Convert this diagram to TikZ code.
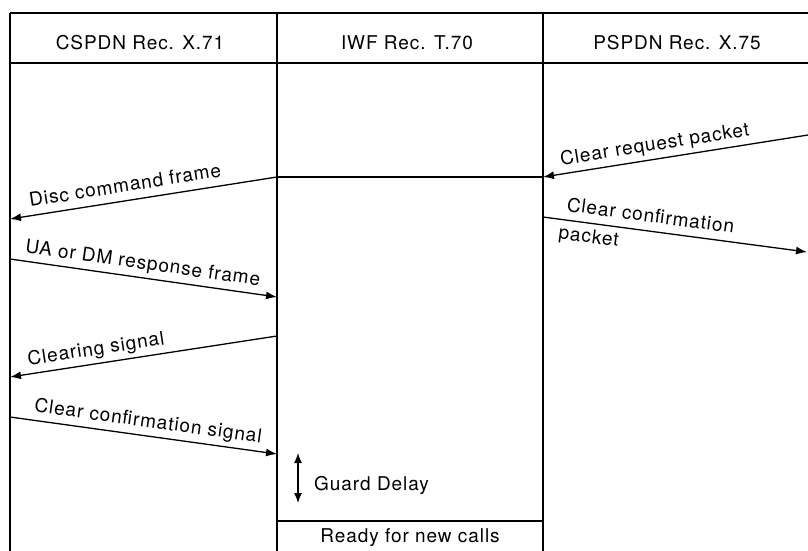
\documentclass[tikz,border=0pt]{standalone}
\usepackage{fontspec}
\setmainfont{TeX Gyre Heros}[LetterSpace=5]
\usetikzlibrary{arrows.meta}
\begin{document}
\begin{tikzpicture}[x=1pt,y=-1pt,
  every node/.style={font=\fontsize{19}{22}\selectfont, inner sep=0pt},
  frame/.style={line width=1.8pt},
  life/.style={line width=2pt},
  msgr/.style={line width=1.3pt, -{Latex[length=11pt,width=8pt]}},
  msgl/.style={line width=1.3pt, {Latex[length=11pt,width=8pt]}-},
  lbl/.style={sloped, above=4pt, text depth=4pt},
  lbln/.style={sloped, above=8pt},
  lblb/.style={sloped, below=5pt},
  head/.style={anchor=base}]
\useasboundingbox (0,0) rectangle (808,551);
% lifelines and header
\coordinate (Ltop) at (10,13);   \coordinate (Lbot) at (10,551);
\coordinate (Mtop) at (277,13);  \coordinate (Mbot) at (277,551);
\coordinate (Rtop) at (543,13);  \coordinate (Rbot) at (543,551);
\coordinate (Etop) at (808,13);
\coordinate (Hl) at (10,63);     \coordinate (Hr) at (808,63);
\draw[frame] (Ltop) -- (Etop);
\draw[frame] (Hl) -- (Hr);
\draw[life] (Ltop) -- (Lbot);
\draw[life] (Mtop) -- (Mbot);
\draw[life] (Rtop) -- (Rbot);
\node[head] (h1) at (140,49) {CSPDN Rec. X.71};
\node[head] (h2) at (407,49) {IWF Rec. T.70};
\node[head] (h3) at (677,49) {PSPDN Rec. X.75};
% messages
\coordinate (crpR) at (808,135); \coordinate (crpL) at (543,177);
\draw[msgl] (crpL) -- (crpR) node[lbl,pos=0.43] (t1) {Clear request packet};
\coordinate (hzL) at (277,177);
\draw[line width=1.3pt] (hzL) -- (crpL);
\coordinate (dcL) at (10,219);
\draw[msgl] (dcL) -- (hzL) node[lbln,pos=0.44] (t2) {Disc command frame};
\coordinate (ccpL) at (543,217); \coordinate (ccpR) at (807,252);
\draw[msgr] (ccpL) -- (ccpR)
  node[lbln,pos=0.40] (t3) {Clear confirmation}
  node[lblb,pos=0.18] (t3b) {packet};
\coordinate (uaL) at (10,259); \coordinate (uaR) at (277,297);
\draw[msgr] (uaL) -- (uaR) node[lbl,pos=0.49] (t4) {UA or DM response frame};
\coordinate (csL) at (10,377); \coordinate (csR) at (277,336);
\draw[msgl] (csL) -- (csR) node[lbl,pos=0.33] (t5) {Clearing signal};
\coordinate (ccsL) at (10,417); \coordinate (ccsR) at (277,454);
\draw[msgr] (ccsL) -- (ccsR) node[lbl,pos=0.51] (t6) {Clear confirmation signal};
% guard delay
\coordinate (gdT) at (298,453); \coordinate (gdB) at (298,503);
\draw[line width=1.3pt, {Latex[length=10pt,width=8pt]}-{Latex[length=10pt,width=8pt]}] (gdT) -- (gdB);
\node[anchor=base west] (gd) at (314,490) {Guard Delay};
% ready
\coordinate (rdL) at (277,521); \coordinate (rdR) at (543,521);
\draw[frame] (rdL) -- (rdR);
\node[anchor=base] (rd) at (410,542) {Ready for new calls};
\end{tikzpicture}
\end{document}
